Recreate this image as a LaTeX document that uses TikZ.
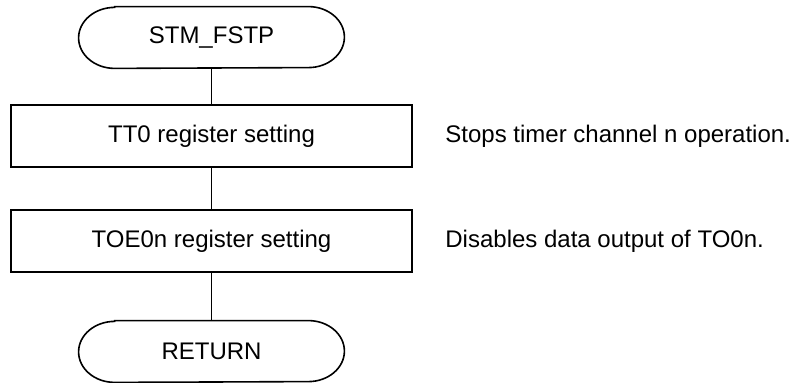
\documentclass[tikz,border=0pt]{standalone}
\usepackage{fontspec}
\setmainfont{Liberation Sans}

\begin{document}
\begin{tikzpicture}[x=0.5pt,y=-0.5pt,font=\fontsize{12}{14}\selectfont,
  terminal/.style={rectangle,minimum width=132.5pt,minimum height=30.5pt,inner sep=0pt},
  process/.style={rectangle,draw,line width=0.8pt,minimum width=200.5pt,minimum height=31pt,inner sep=0pt},
  note/.style={anchor=west,inner sep=0pt}]
\useasboundingbox (0,0) rectangle (796,383);
\node [terminal] (start) at (211.5,37.5) {STM\_FSTP};
\node [process] (tt) at (211.5,136) {TT0 register setting};
\node [process] (toe) at (211.5,241) {TOE0n register setting};
\node [terminal] (ret) at (211.5,351.5) {RETURN};
% flat ends of the terminals
\foreach \t in {start,ret}
  \draw [line width=0.8pt] ([xshift=18pt]\t.north west) -- ([xshift=-18pt]\t.north east)
    arc [start angle=90,end angle=-90,x radius=18pt,y radius=15.25pt]
    -- ([xshift=18pt]\t.south west)
    arc [start angle=270,end angle=90,x radius=18pt,y radius=15.25pt] -- cycle;
% comments beside the steps
\node [note] (ttnote) at (445,136) {Stops timer channel n operation.};
\node [note] (toenote) at (445,241) {Disables data output of TO0n.};
\draw [line width=0.6pt] (start) -- (tt) -- (toe) -- (ret);
\end{tikzpicture}
\end{document}
